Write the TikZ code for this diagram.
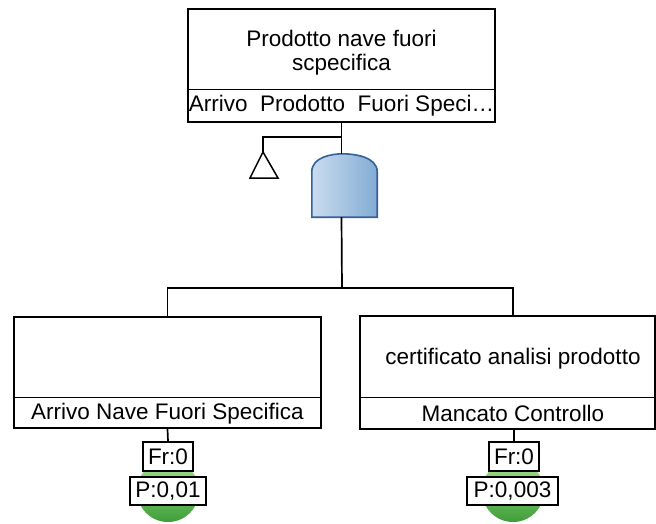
\documentclass[tikz,border=0pt]{standalone}
\usepackage{fontspec}
\setmainfont{Liberation Sans}
\usetikzlibrary{calc}
\definecolor{gateL}{HTML}{CADCEE}
\definecolor{gateR}{HTML}{82ACD4}
\definecolor{gateB}{HTML}{35609A}
\definecolor{ballT}{HTML}{A6E391}
\definecolor{ballB}{HTML}{3E9E38}
\begin{document}
\begin{tikzpicture}[x=1pt,y=-1pt,
  frame/.style={draw,line width=1.7pt,inner sep=0pt,fill=white},
  txt/.style={inner sep=0pt,align=center,font=\fontsize{22.5}{24}\selectfont},
  tag/.style={draw,line width=1.3pt,fill=white,inner sep=0pt,font=\fontsize{22.5}{24}\selectfont},
  conn/.style={line width=1.7pt},
  divider/.style={line width=1pt},
  ball/.style={top color=ballT,bottom color=ballB}]
\useasboundingbox (0,0) rectangle (656,523);
% balls behind
\coordinate (b1) at (168,491);
\coordinate (b2) at (513,491);
\shade[ball] (b1) circle (31);
\shade[ball] (b2) circle (31);
% top event
\node[frame,minimum width=307,minimum height=113] (top) at (341.5,65.5) {};
\draw[divider] ([yshift=33pt]top.south west) -- ([yshift=33pt]top.south east);
\node[txt] (topT) at (341.5,53) {Prodotto nave fuori\\scpecifica};
\node[txt] (topL) at (341.5,106) {Arrivo\ \ Prodotto\ \ Fuori Speci\dots};
% gate
\node[minimum width=65,minimum height=63,inner sep=0pt] (gate) at (344.5,185.5) {};
\shade[left color=gateL,right color=gateR,draw=gateB,line width=1.6pt]
  (gate.south west) -- ([yshift=-18pt]gate.west |- gate.north)
  .. controls ([yshift=-3pt]gate.north west) and ([xshift=-12pt]gate.north) .. ([xshift=-2pt]gate.north)
  .. controls ([xshift=10pt]gate.north) and ([yshift=-3pt]gate.north east) .. ([yshift=-18pt]gate.east |- gate.north)
  -- (gate.south east) -- cycle;
% transfer triangle
\coordinate (apex) at (263,152);
\draw[line width=1.5pt] (apex) -- (250,178) -- (278,178) -- cycle;
\coordinate (j1) at (342,137);
\coordinate (bus) at (342,288);
\draw[conn] (top.south) -- (top.south |- gate.north);
\draw[conn] (j1) -| (apex);
\draw[conn] (top.south |- gate.south) -- (bus);
% children
\node[frame,minimum width=307,minimum height=111] (left) at (167.5,372.5) {};
\draw[divider] ([yshift=31pt]left.south west) -- ([yshift=31pt]left.south east);
\node[txt] (leftL) at (167.5,413.5) {Arrivo Nave Fuori Specifica};
\node[frame,minimum width=295,minimum height=113] (right) at (507.5,372.5) {};
\draw[divider] ([yshift=32pt]right.south west) -- ([yshift=32pt]right.south east);
\node[txt] (rightT) at (513,359) {certificato analisi prodotto};
\node[txt] (rightL) at (513,413.5) {Mancato Controllo};
\coordinate (rc) at (513,316);
\draw[conn] (left.north) |- (bus) -| (rc);
% basic events
\node[tag,minimum width=50,minimum height=29] (fr1) at (168,456.5) {Fr:0};
\node[tag,minimum width=76,minimum height=28] (p1) at (168,491) {P:0,01};
\node[tag,minimum width=50,minimum height=29] (fr2) at (514,456.5) {Fr:0};
\node[tag,minimum width=91,minimum height=28] (p2) at (512.5,491) {P:0,003};
\draw[conn] (left.south) -- (fr1.north);
\draw[conn] (fr2.north |- right.south) -- (fr2.north);
\end{tikzpicture}
\end{document}
